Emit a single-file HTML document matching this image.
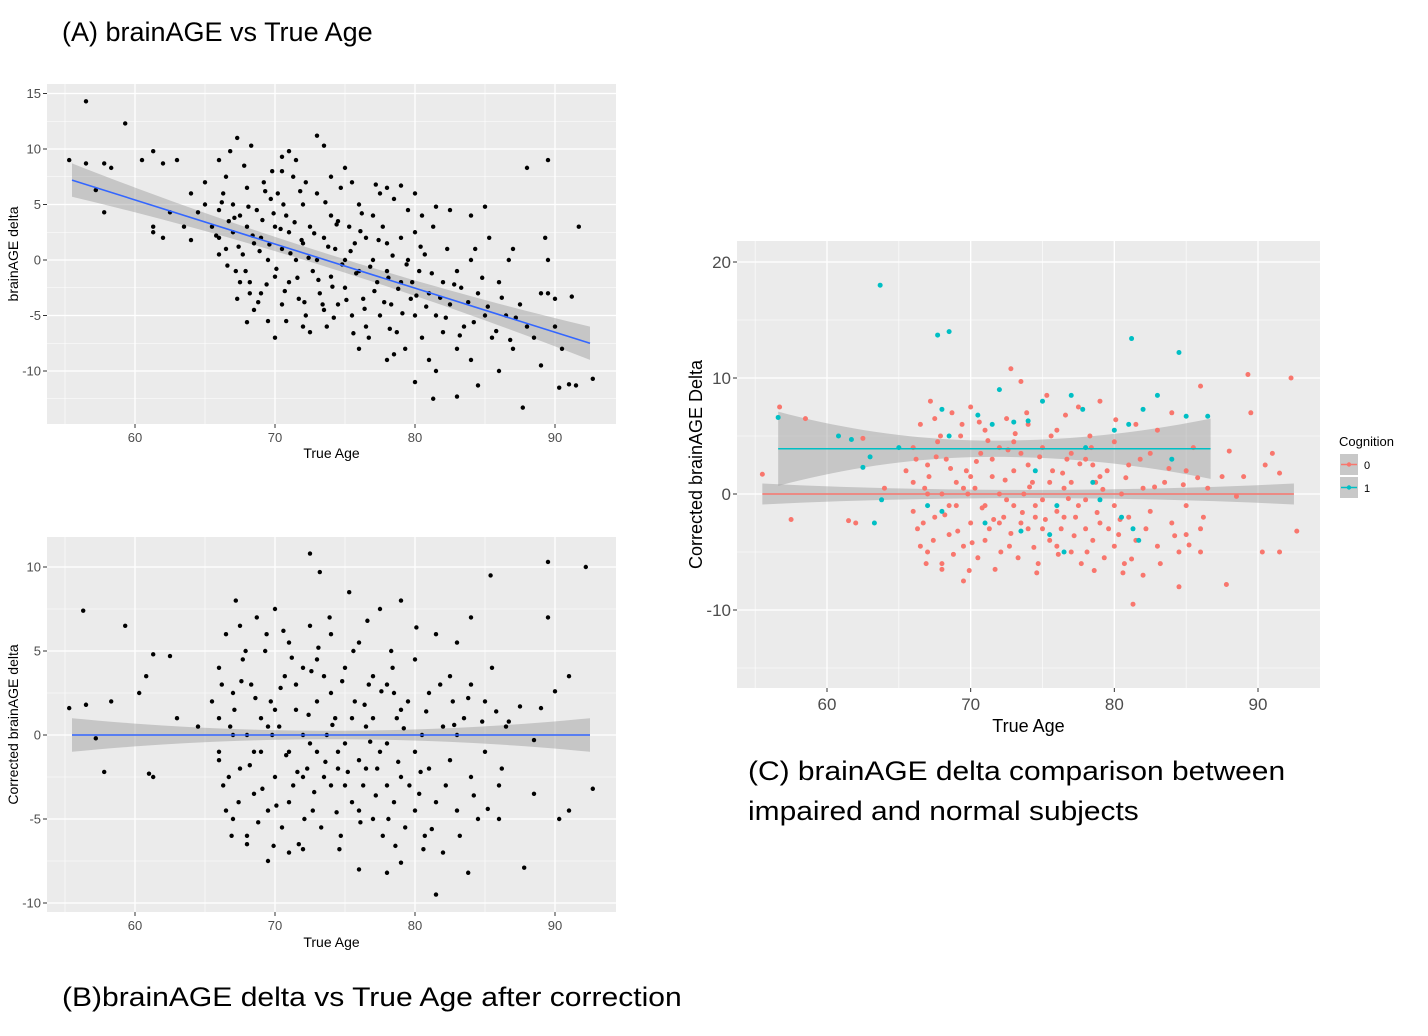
<!DOCTYPE html>
<html><head><meta charset="utf-8"><style>
html,body{margin:0;padding:0;background:#fff;}
body{width:1428px;height:1036px;position:relative;overflow:hidden;font-family:"Liberation Sans",sans-serif;}
.cap{position:absolute;font-size:27px;color:#000;line-height:40px;white-space:nowrap;transform-origin:0 0;}
svg{position:absolute;left:0;top:0;}
</style></head><body>
<div class="cap" style="left:62px;top:12px;">(A) brainAGE vs True Age</div>
<div class="cap" style="left:62px;top:977px;transform:scaleX(1.113);">(B)brainAGE delta vs True Age after correction</div>
<div class="cap" style="left:748px;top:751px;transform:scaleX(1.108);">(C) brainAGE delta comparison between<br>impaired and normal subjects</div>
<svg id="fig" width="1428" height="1036"></svg>
<script>
// ---------- DATA ----------
const agesA = [56.5,59.3,55.3,56.5,57.8,58.3,60.5,61.3,62,63,57.2,57.8,61.3,61.3,62.5,64,64.5,65,66,66.8,67.3,68.3,70.5,71,73,73.5,75,74,78,79,80,81.5,82.5,84,85,88,89.5,89.3,91.7,92.7,91,90.3,91.5,87.7,81.3,83,84.5,86,80,78,76,70,68,72,86.7,89.5,90,91.2,89.5,87,
65,65.5,66,66,66.3,66.5,66.7,67,67,67.2,67.3,67.5,67.7,68,68,68.2,68.5,68.7,69,69,69.2,69.5,69.7,70,70,70.2,70.5,70.5,70.8,71,71,71.3,71.5,71.7,72,72,72.2,72.5,72.7,73,73,73.2,73.5,73.7,74,74,74.3,74.5,74.7,75,75,75.3,75.5,75.7,76,76,76.3,76.5,76.7,77,77,77.3,77.5,77.7,78,78,78.3,78.5,78.7,79,79,79.3,79.5,79.7,80,80,80.3,80.5,80.7,81,81,81.3,81.5,82,82,82.3,82.5,83,83,83.3,83.5,84,84,84.3,84.5,85,85.3,85.5,86,86.5,87,87.5,88,88.5,89,89,90,90.5,66,67.5,68.5,69.5,70.5,71.5,72.5,73.5,74.5,75.5,76.5,77.5,78.5,79.5,80.5,81.5,63.5,64,62,66.5,67.8,68.8,69.8,70.8,71.8];
const deltaA = [14.3,12.3,9,8.7,8.7,8.3,9,9.8,8.7,9,6.3,4.3,3,2.5,4.3,6,4.3,7,9,9.8,11,10.3,9.3,9.8,11.2,10.3,8.3,7.5,6.5,6.7,6,4.8,4.5,4,4.8,8.3,9,2,3,-10.7,-11.2,-11.5,-11.3,-13.3,-12.5,-12.3,-11.3,-10,-11,-9,-8,-7,-5.6,-6,0,-3,-3.5,-3.3,0,1,
5,3,2,4.5,6,1,3.5,2.5,5,-1,-3.5,4,0.5,3,6.5,-2,1.5,4.5,2,-3,7,0,5.5,3,-1.5,6,1,-4,4,-2,2.5,7.5,0,-3.5,5,1.5,-5,3,-1,0,6,-3,2,-6,4,-1.5,1,-4,6.5,0,-2.5,3,-5,1.5,-1,5,-3.5,2,-7,0,4,-2,-5,3,-1,1.5,-4,5.5,-6.5,-2,2,-8,0,-3.5,-5,2.5,-1,-7,0.5,-3,-9,3,-5,-2,-6.5,1,-4,-8,-1,-2.5,-6,0,-9,1,-3,-5,2,-7,-2,-5,-8,-4,-6,-7,-3,-9.5,-6,-8,0.5,-2,-4.5,-5.5,8,9,-6.5,-4.5,3.5,7,-6,6,-8.5,4.5,4,-10,3,1.8,2,7.5,8.5,-3.8,8,-5.5,6.2];
const agesAExtra = [65.8,66.2,66.6,67.1,67.4,67.9,68.1,68.4,68.9,69.1,69.4,69.6,69.9,70.1,70.4,70.7,71.1,71.4,71.6,71.9,72.1,72.4,72.8,73.1,73.4,73.8,74.1,74.4,74.8,75.1,75.4,75.8,76.1,76.4,76.8,77.1,77.4,77.8,78.1,78.4,78.8,79.1,79.4,79.8,80.1,80.4,80.8,81.2,81.8,82.2,82.8,83.2,83.8,84.2,84.8,85.2,85.8,86.2,86.8,87.2,68.2,69.3,70.6,72.2,73.6,74.2,75.6,76.2,77.2,78.2];
const deltaAExtra = [2.2,5.2,-0.5,3.8,1.2,-1,4.8,2.2,0.8,3.6,-2.2,1.4,4.2,-0.8,2.8,-2.8,0.6,3.4,-1.6,1.8,-3.8,0.2,2.4,-1.8,-4,1.2,-2.4,3.2,-0.4,-3.6,0.8,-1.2,2.6,-4.4,-0.6,-2.8,1.8,-3.8,-1.6,0.4,-2.6,-4.8,-0.4,-2,-3.2,1.2,-4.2,-1.2,-3.4,-5.2,-2.2,-6.8,-3.8,-5.6,-1.6,-4.2,-6.4,-3.4,-7.2,-5.2,-3,6.2,5,7,5.2,-5.2,-6.6,4.2,6.8,-6.2];
const fitA = [[55.5,7.2],[92.5,-7.5]];
const bandA = [1.5,0.6,1.5];

const agesCore = [65.5,66,66,66.3,66.5,66.8,67,67,67.2,67.5,67.7,68,68,68.3,68.5,68.7,69,69,69.3,69.5,69.7,70,70,70.3,70.5,70.7,71,71,71.3,71.5,71.7,72,72,72.3,72.5,72.7,73,73,73.3,73.5,73.7,74,74,74.3,74.5,74.7,75,75,75.3,75.5,75.7,76,76,76.3,76.5,76.7,77,77,77.3,77.5,77.7,78,78,78.3,78.5,78.7,79,79,79.3,79.5,80,80,80.3,80.5,80.7,81,81,81.5,81.5,82,82,82.5,82.5,83,83,83.5,84,84,84.5,85,85,85.5,86,86.5,66.5,68,69.5,67.5,70,71,72,73,74,75,76,77,78,79,80,66,67,68.5,69.5,71.5,72.5,73.5,74.5,75.5,76.5,77.5,78.5];
const deltaCore = [2,-1.5,4,-3,6,0.5,-5,2.5,8,-2,4.5,0,-6,3,-3.5,7,1,-1,5,-4.5,2,-2.5,7.5,0.5,-5.5,3.5,-1,5.5,-3,1.5,-6.5,0,4,-2,6.5,-4.5,2,-1,-5.5,3.5,0,-3,6,1,-2,-6,4,-0.5,8.5,-4,2,-1.5,5.5,-3,0.5,3,-5,1,-2,7.5,-6,3,-0.5,5,-4,1,-2.5,8,-5.5,2,-1,4.5,-3.5,0,-6,2.5,-2,6,-4,0.5,-7,3.5,-1.5,-4.5,5.5,1,-2.5,7,-5,2,-1,4,-3,0.5,-4.5,-6.5,-7.5,6.5,1.5,-4,-2.5,4.5,2.5,-3,-4.5,3.5,-3,1.5,-4.5,1,0,-1,0.5,3,-0.5,-2.5,-1,1,-2,-1,2.5];
const agesCoreExtra = [66.2,66.7,67.1,67.4,67.9,68.2,68.6,69.1,69.4,69.8,70.1,70.4,70.8,71.2,71.6,72.1,72.4,72.8,73.1,73.6,74.1,74.4,74.8,75.2,75.6,76.1,76.4,76.8,77.2,77.6,78.1,78.4,78.8,79.2,79.6,80.1,80.4,80.8,81.2,81.8,82.2,82.8,83.2,83.8,84.2,84.8,85.2,85.8,86.2,67.6,68.8,70.6,72.6,74.6,76.6,78.6,80.6,66.9,69.9,73.9];
const deltaCoreExtra = [3,-2.5,1.5,-4,5,-1.8,2.2,-3.2,6,0,-4.2,2.8,-1.2,4.6,-2.2,-5,1.2,-3.4,5.2,-1.6,0.6,-4.6,3.2,-2.2,5,-5.2,1.8,-0.4,-3.6,2.6,-5,4,-1.6,0.4,-3,6.4,-2.2,1.4,-5.6,3,-3,0.6,-6,2.2,-3.6,0.8,-4.4,1.4,-2,3.2,-5.2,6.2,3.8,-6.8,6.8,-6.6,-6.8,-6,-6.6,7];
const agesBOut = [56.3,59.3,55.3,57.2,57.8,56.5,58.3,60.3,61,61.3,61.3,62.5,60.8,63,64.5,66,72.5,73.2,71,72,76,78,79,81.5,83.8,87.8,89.5,92.2,91,92.7,90.3,88.5,86,85.4,89.5,90,91,89,88.5,86.7,87.5,84,83,82.7];
const deltaBOut = [7.4,6.5,1.6,-0.2,-2.2,1.8,2,2.5,-2.3,-2.5,4.8,4.7,3.5,1,0.5,-1,10.8,9.7,-7,-6.8,-8,-8.2,-7.6,-9.5,-8.2,-7.9,10.3,10,-4.5,-3.2,-5,-3.5,-5,9.5,7,2.6,3.5,1.6,-0.3,0.8,1.7,3,0,2];
const fitB = [[55.5,0],[92.5,0]];
const bandB = [1,0.25,1];

const agesC0Out = [55.5,56.7,57.5,58.5,61.5,62,62.5,64,72.8,73.5,81.3,84.5,87.8,89.3,92.3,91.5,92.7,90.3,91,90.5,86,89.5,88,87.5,89,91.5,86,85,88.5];
const deltaC0Out = [1.7,7.5,-2.2,6.5,-2.3,-2.5,4.8,0.5,10.8,9.7,-9.5,-8,-7.8,10.3,10,-5,-3.2,-5,3.5,2.5,9.3,7,3.7,1.5,1.5,1.8,-5,-3.5,-0.2];
const agesC1 = [63.7,67.7,68.5,81.2,84.5,56.6,60.8,61.7,62.5,63,63.3,63.8,65,67,68,68.5,70.5,71.5,72,73,74,74.5,75,76,76.5,77,77.8,78,78.5,79,80,81,81.3,81.7,82,83,84,85,86.5,73.5,71,68,75.5,80.5];
const deltaC1 = [18,13.7,14,13.4,12.2,6.6,5,4.7,2.3,3.2,-2.5,-0.5,4,-1,7.3,5,6.8,6,9,6.2,6.3,2,8,-1,-5,8.5,7.3,4,1,-0.5,5.5,6,-3,-4,7.3,8.5,3,6.7,6.7,-3.2,-2.5,-1.5,-3.5,-2];
const fitC0 = [[55.5,0],[92.5,0]];
const bandC0 = [0.9,0.35,0.9];
const fitC1 = [[56.6,3.9],[86.7,3.9]];
const bandC1 = [3.2,0.7,2.6];
const xTicks = [60,70,80,90];
const yTicksA = [-10,-5,0,5,10,15];
const yTicksB = [-10,-5,0,5,10];
const yTicksC = [-10,0,10,20];

// ---------- DRAWING ----------
const NS='http://www.w3.org/2000/svg';
const svg=document.getElementById('fig');
const defs=document.createElementNS(NS,'defs');svg.appendChild(defs);
function mk(tag,attrs,parent){const e=document.createElementNS(NS,tag);for(const k in attrs)e.setAttribute(k,attrs[k]);(parent||svg).appendChild(e);return e;}
function scale(d0,d1,r0,r1){return v=>r0+(v-d0)*(r1-r0)/(d1-d0);}
let clipN=0;
function panel(o){
  const g=mk('g',{});
  
  
  const sx=scale(60,90,o.x60,o.x90), sy=scale(o.ya,o.yb,o.pya,o.pyb);
  const id='clip'+(clipN++);
  const cp=mk('clipPath',{id:id},defs);
  mk('rect',{x:o.L,y:o.T,width:o.R-o.L,height:o.B-o.T},cp);
  const bg=mk('rect',{x:o.L,y:o.T,width:o.R-o.L,height:o.B-o.T,fill:'#ebebeb'},g);
  
  for(let v=o.xmin;v<=o.xmax;v+=5){const X=sx(v);if(X<o.L||X>o.R)continue;
    const major=xTicks.includes(v);
    mk('line',{x1:X,x2:X,y1:o.T,y2:o.B,stroke:'#fff','stroke-width':major?1.3:0.6},g);}
  for(let v=o.gymin;v<=o.gymax;v+=o.ystep/2){const Y=sy(v);if(Y<o.T||Y>o.B)continue;
    const major=o.yTicks.includes(v);
    mk('line',{x1:o.L,x2:o.R,y1:Y,y2:Y,stroke:'#fff','stroke-width':major?1.3:0.6},g);}
  xTicks.forEach(v=>{const X=sx(v);
    mk('line',{x1:X,x2:X,y1:o.B,y2:o.B+4,stroke:'#333'},g);
    const t=mk('text',{x:X,y:o.B+o.fs+5,'text-anchor':'middle','font-size':o.fs,fill:'#4d4d4d','font-family':'Liberation Sans, sans-serif'},g);
    t.textContent=v;});
  o.yTicks.forEach(v=>{const Y=sy(v);
    mk('line',{x1:o.L-4,x2:o.L,y1:Y,y2:Y,stroke:'#333'},g);
    const t=mk('text',{x:o.L-6,y:Y+o.fs*0.35,'text-anchor':'end','font-size':o.fs,fill:'#4d4d4d','font-family':'Liberation Sans, sans-serif'},g);
    t.textContent=v;});
  const xt=mk('text',{x:(o.L+o.R)/2,y:o.xtY,'text-anchor':'middle','font-size':o.tfs,fill:'#000','font-family':'Liberation Sans, sans-serif'},g);
  xt.textContent='True Age';
  const cy=(o.T+o.B)/2;
  const yt=mk('text',{x:o.ytX,y:cy,'text-anchor':'middle','font-size':o.tfs,fill:'#000','font-family':'Liberation Sans, sans-serif',transform:`rotate(-90 ${o.ytX} ${cy})`},g);
  yt.textContent=o.ylab;
  const inner=mk('g',{'clip-path':`url(#${id})`},g);
  
  
  return {g:inner,sx,sy};
}
function points(p,ages,vals,color,r,name){
  const n=Math.min(ages.length,vals.length);
  for(let i=0;i<n;i++){const c=mk('circle',{cx:p.sx(ages[i]),cy:p.sy(vals[i]),r:r,fill:color},p.g);
    
    }
}
function fit(p,line,band,color,name){
  const [a0,v0]=line[0],[a1,v1]=line[1];const n=40;const up=[],dn=[];
  for(let i=0;i<=n;i++){const t=i/n;const a=a0+(a1-a0)*t,v=v0+(v1-v0)*t;
    const u=2*t-1;const hw=band[1]+(t<0.5?(band[0]-band[1]):(band[2]-band[1]))*u*u;
    up.push([p.sx(a),p.sy(v+hw)]);dn.push([p.sx(a),p.sy(v-hw)]);}
  const pts=up.concat(dn.reverse()).map(q=>q.join(',')).join(' ');
  const b=mk('polygon',{points:pts,fill:'#999',opacity:0.45},p.g);
  
  return ()=>{const l=mk('line',{x1:p.sx(a0),y1:p.sy(v0),x2:p.sx(a1),y2:p.sy(v1),stroke:color,'stroke-width':1.6},p.g);
    };
}
// Panel A
const pA=panel({name:'panel-a-chart',L:47,R:616,T:84,B:424,x60:135,x90:555,ya:0,yb:10,pya:260,pyb:149,xmin:55,xmax:95,gymin:-12.5,gymax:15,ystep:5,yTicks:yTicksA,fs:13,tfs:14,xtY:458,ytX:18,ylab:'brainAGE delta'});
const lineA=fit(pA,fitA,bandA,'#3366ff','panel-a-fit');
points(pA,agesA,deltaA,'#000',2.2,'panel-a-point');
points(pA,agesAExtra,deltaAExtra,'#000',2.2,'panel-a-point');
lineA();
// Panel B
const pB=panel({name:'panel-b-chart',L:47,R:616,T:537,B:912,x60:135,x90:555,ya:0,yb:10,pya:735,pyb:567,xmin:55,xmax:95,gymin:-10,gymax:12.5,ystep:5,yTicks:yTicksB,fs:13,tfs:14,xtY:947,ytX:18,ylab:'Corrected brainAGE delta'});
const lineB=fit(pB,fitB,bandB,'#3366ff','panel-b-fit');
points(pB,agesCore,deltaCore,'#000',2.2,'panel-b-point');
points(pB,agesCoreExtra,deltaCoreExtra,'#000',2.2,'panel-b-point');
points(pB,agesBOut,deltaBOut,'#000',2.2,'panel-b-point');
lineB();
// Panel C
const pC=panel({name:'panel-c-chart',L:737,R:1320,T:241,B:688,x60:827,x90:1258,ya:0,yb:10,pya:494,pyb:378,xmin:55,xmax:95,gymin:-15,gymax:20,ystep:10,yTicks:yTicksC,fs:17,tfs:18,xtY:732,ytX:702,ylab:'Corrected brainAGE Delta'});
const lineC0=fit(pC,fitC0,bandC0,'#f8766d','cognition-0-fit');
const lineC1=fit(pC,fitC1,bandC1,'#00bfc4','cognition-1-fit');
points(pC,agesCore,deltaCore,'#f8766d',2.5,'cognition-0-point');
points(pC,agesCoreExtra,deltaCoreExtra,'#f8766d',2.5,'cognition-0-point');
points(pC,agesC0Out,deltaC0Out,'#f8766d',2.5,'cognition-0-point');
points(pC,agesC1,deltaC1,'#00bfc4',2.5,'cognition-1-point');
lineC0();lineC1();
// Legend
const lg=mk('g',{});
const lt=mk('text',{x:1339,y:446,'font-size':13,fill:'#000','font-family':'Liberation Sans, sans-serif'},lg);lt.textContent='Cognition';
[['0','#f8766d',454],['1','#00bfc4',477]].forEach(([lab,col,y])=>{
  const e=mk('g',{},lg);
  mk('rect',{x:1340,y:y,width:18,height:21,fill:'#c8c8c8'},e);
  mk('line',{x1:1341,x2:1357,y1:y+10.5,y2:y+10.5,stroke:col,'stroke-width':1.5},e);
  mk('circle',{cx:1349,cy:y+10.5,r:2.2,fill:col},e);
  const t=mk('text',{x:1364,y:y+15,'font-size':11,fill:'#000','font-family':'Liberation Sans, sans-serif'},e);t.textContent=lab;});
</script>
</body></html>
